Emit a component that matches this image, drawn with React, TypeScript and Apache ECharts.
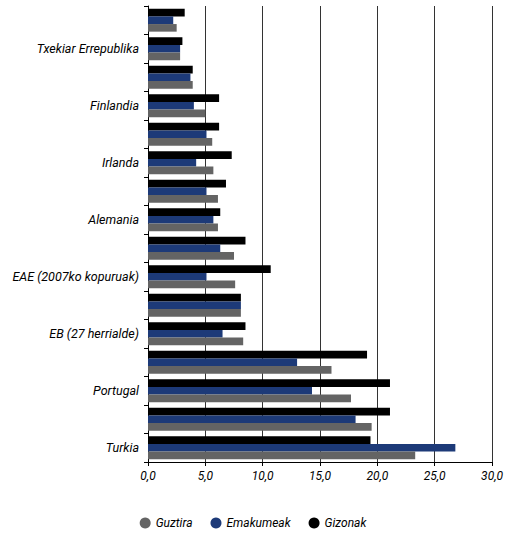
import React, { useEffect, useRef } from "react";
import * as echarts from "echarts";

const categories = [
  "", "Txekiar Errepublika", "", "Finlandia", "", "Irlanda", "", "Alemania",
  "", "EAE (2007ko kopuruak)", "", "EB (27 herrialde)", "", "Portugal", "", "Turkia",
];
const gizonak = [3.2, 3.0, 3.9, 6.2, 6.2, 7.3, 6.8, 6.3, 8.5, 10.7, 8.1, 8.5, 19.1, 21.1, 21.1, 19.4];
const emakumeak = [2.2, 2.8, 3.7, 4.0, 5.1, 4.2, 5.1, 5.7, 6.3, 5.1, 8.1, 6.5, 13.0, 14.3, 18.1, 26.8];
const guztira = [2.5, 2.8, 3.9, 5.0, 5.6, 5.7, 6.1, 6.1, 7.5, 7.6, 8.1, 8.3, 16.0, 17.7, 19.5, 23.3];

const FONT = "Roboto, 'Liberation Sans', sans-serif";

export default function App() {
  const ref = useRef<HTMLDivElement>(null);
  useEffect(() => {
    if (!ref.current) return;
    const chart = echarts.init(ref.current, undefined, { renderer: "svg" });
    const barW = 7.6;
    chart.setOption({
      animation: false,
      grid: { left: 148, right: 13, top: 6, bottom: 74 },
      legend: {
        data: ["Guztira", "Emakumeak", "Gizonak"],
        bottom: 2,
        left: "center",
        icon: "circle",
        itemWidth: 11,
        itemHeight: 11,
        itemGap: 18,
        textStyle: { fontFamily: FONT, fontStyle: "italic", fontSize: 12, color: "#000" },
      },
      xAxis: {
        type: "value",
        min: 0,
        max: 30,
        interval: 5,
        axisLine: { show: true, lineStyle: { color: "#000", width: 1 } },
        axisTick: { show: true, length: 4, lineStyle: { color: "#000" } },
        splitLine: { show: true, lineStyle: { color: "#333", width: 1 } },
        axisLabel: {
          formatter: (v: number) => v.toFixed(1).replace(".", ","),
          fontFamily: FONT,
          fontStyle: "italic",
          fontSize: 12,
          color: "#000",
          margin: 8,
        },
      },
      yAxis: {
        type: "category",
        data: categories,
        inverse: true,
        axisLine: { show: true, lineStyle: { color: "#000", width: 1 } },
        axisTick: { show: true, length: 4, lineStyle: { color: "#000" } },
        axisLabel: {
          interval: 0,
          fontFamily: FONT,
          fontStyle: "italic",
          fontSize: 12.5,
          color: "#000",
          margin: 9,
        },
      },
      series: [
        { name: "Gizonak", type: "bar", data: gizonak, barWidth: barW, barGap: "0%", itemStyle: { color: "#000000" } },
        { name: "Emakumeak", type: "bar", data: emakumeak, barWidth: barW, barGap: "0%", itemStyle: { color: "#1d3a78" } },
        { name: "Guztira", type: "bar", data: guztira, barWidth: barW, barGap: "0%", itemStyle: { color: "#646464" } },
      ],
    });
    return () => chart.dispose();
  }, []);
  return <div ref={ref} style={{ position: "absolute", left: 0, top: 0, width: 506, height: 536 }} />;
}
